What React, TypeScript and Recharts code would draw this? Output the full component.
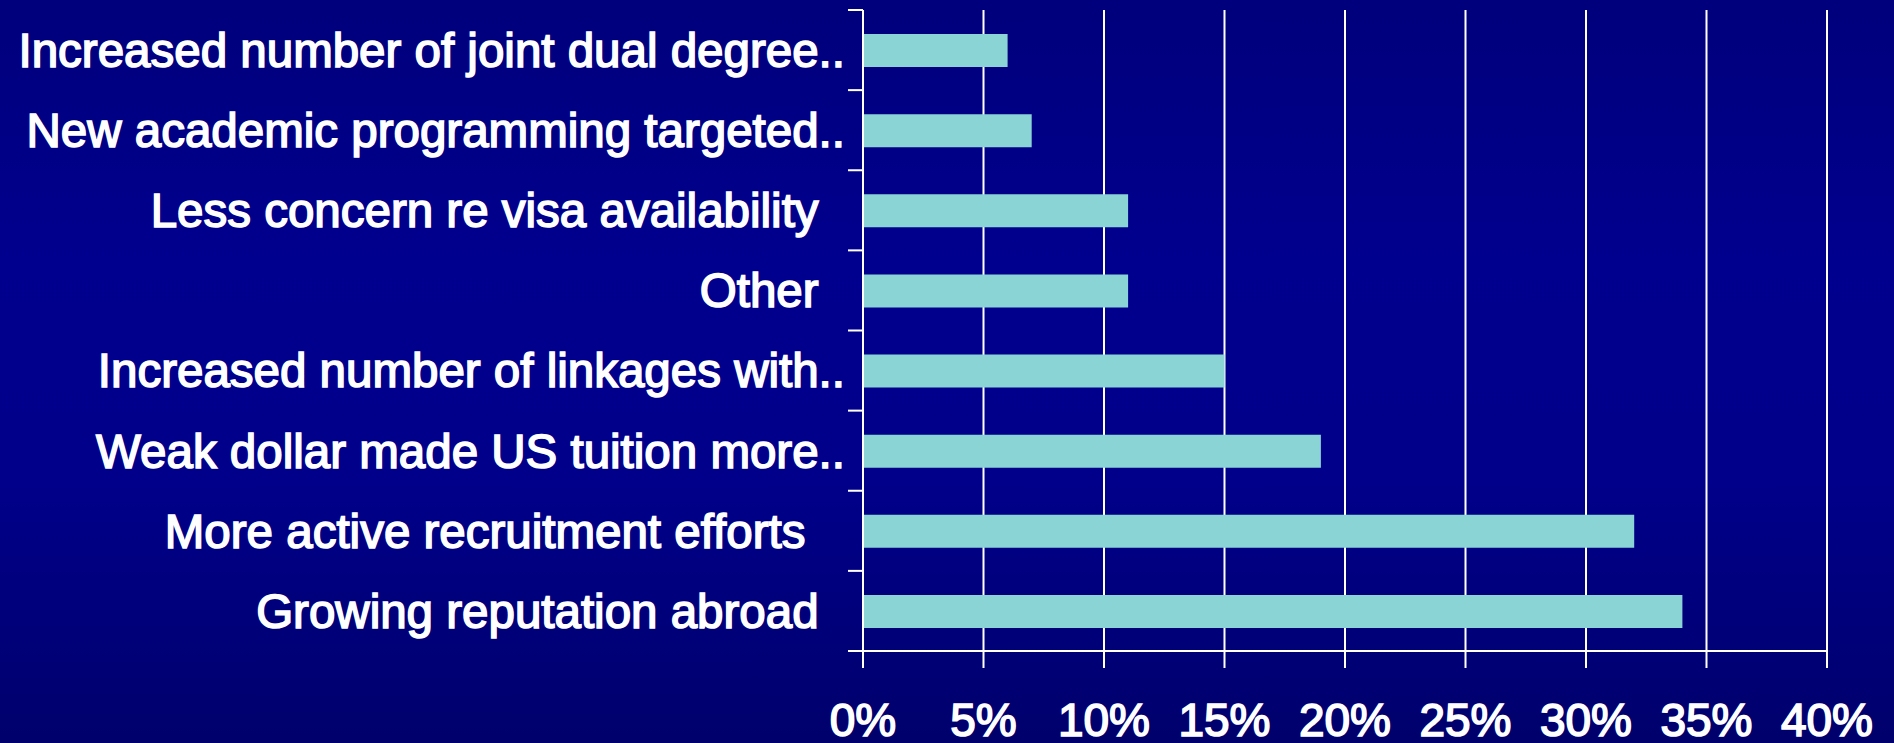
import React from 'react';
import { BarChart, Bar, XAxis, YAxis, CartesianGrid } from 'recharts';

const categories: string[] = [
  'Increased number of joint dual degree..',
  'New academic programming targeted..',
  'Less concern re visa availability  ',
  'Other  ',
  'Increased number of linkages with..',
  'Weak dollar made US tuition more..',
  'More active recruitment efforts   ',
  'Growing reputation abroad  ',
];

const percentValues: number[] = [6, 7, 11, 11, 15, 19, 32, 34];

const xTicks: number[] = [0, 5, 10, 15, 20, 25, 30, 35, 40];

const data = categories.map((name, i) => ({ name, value: percentValues[i] }));

const W = 1894;
const H = 743;
const TOP = 10;
const X_AXIS_H = 92;
const PLOT_H = H - TOP - X_AXIS_H;
const BAND = PLOT_H / categories.length;
const FONT = "Arial, 'Liberation Sans', Helvetica, sans-serif";

const YTick = (props: any) => {
  const { x, y, payload, index } = props;
  const lx1 = x + 2;
  const lx2 = x + 17;
  const isLast = index === categories.length - 1;
  return (
    <g>
      <line x1={lx1} x2={lx2} y1={y - BAND / 2} y2={y - BAND / 2} stroke="#ffffff" strokeWidth={2} />
      {isLast ? (
        <line x1={lx1} x2={lx2} y1={y + BAND / 2} y2={y + BAND / 2} stroke="#ffffff" strokeWidth={2} />
      ) : null}
      <text
        x={x - 1}
        y={y}
        dy="0.355em"
        textAnchor="end"
        fill="#ffffff"
        stroke="#ffffff"
        strokeWidth={1.6}
        fontSize={47.5}
        fontFamily={FONT}
        xmlSpace="preserve"
        style={{ whiteSpace: 'pre' }}
      >
        {payload.value}
      </text>
    </g>
  );
};

const XTick = (props: any) => {
  const { x, y, payload } = props;
  return (
    <text
      x={x}
      y={y}
      dy="0.71em"
      textAnchor="middle"
      fill="#ffffff"
      stroke="#ffffff"
      strokeWidth={1.6}
      fontSize={46}
      fontFamily={FONT}
    >
      {`${payload.value}%`}
    </text>
  );
};

export default function App() {
  return (
    <div
      style={{
        position: 'fixed',
        left: 0,
        top: 0,
        width: W,
        height: H,
        background: 'linear-gradient(to bottom, #00007c 0%, #00008e 35%, #00008a 65%, #00006c 100%)',
        overflow: 'hidden',
      }}
    >
      <BarChart
        width={W}
        height={H}
        data={data}
        layout="vertical"
        margin={{ top: TOP, right: 67, bottom: 0, left: 0 }}
      >
        <CartesianGrid horizontal={false} stroke="#ffffff" strokeWidth={2} />
        <XAxis
          type="number"
          domain={[0, 40]}
          ticks={xTicks}
          interval={0}
          height={X_AXIS_H}
          tickSize={17}
          tickMargin={35}
          axisLine={{ stroke: '#ffffff', strokeWidth: 2 }}
          tickLine={{ stroke: '#ffffff', strokeWidth: 2 }}
          tick={<XTick />}
        />
        <YAxis
          type="category"
          dataKey="name"
          width={863}
          interval={0}
          tickSize={15}
          tickMargin={2}
          tickLine={false}
          axisLine={{ stroke: '#ffffff', strokeWidth: 2 }}
          tick={<YTick />}
        />
        <Bar dataKey="value" fill="#8ad4d6" barSize={33} isAnimationActive={false} />
      </BarChart>
    </div>
  );
}
